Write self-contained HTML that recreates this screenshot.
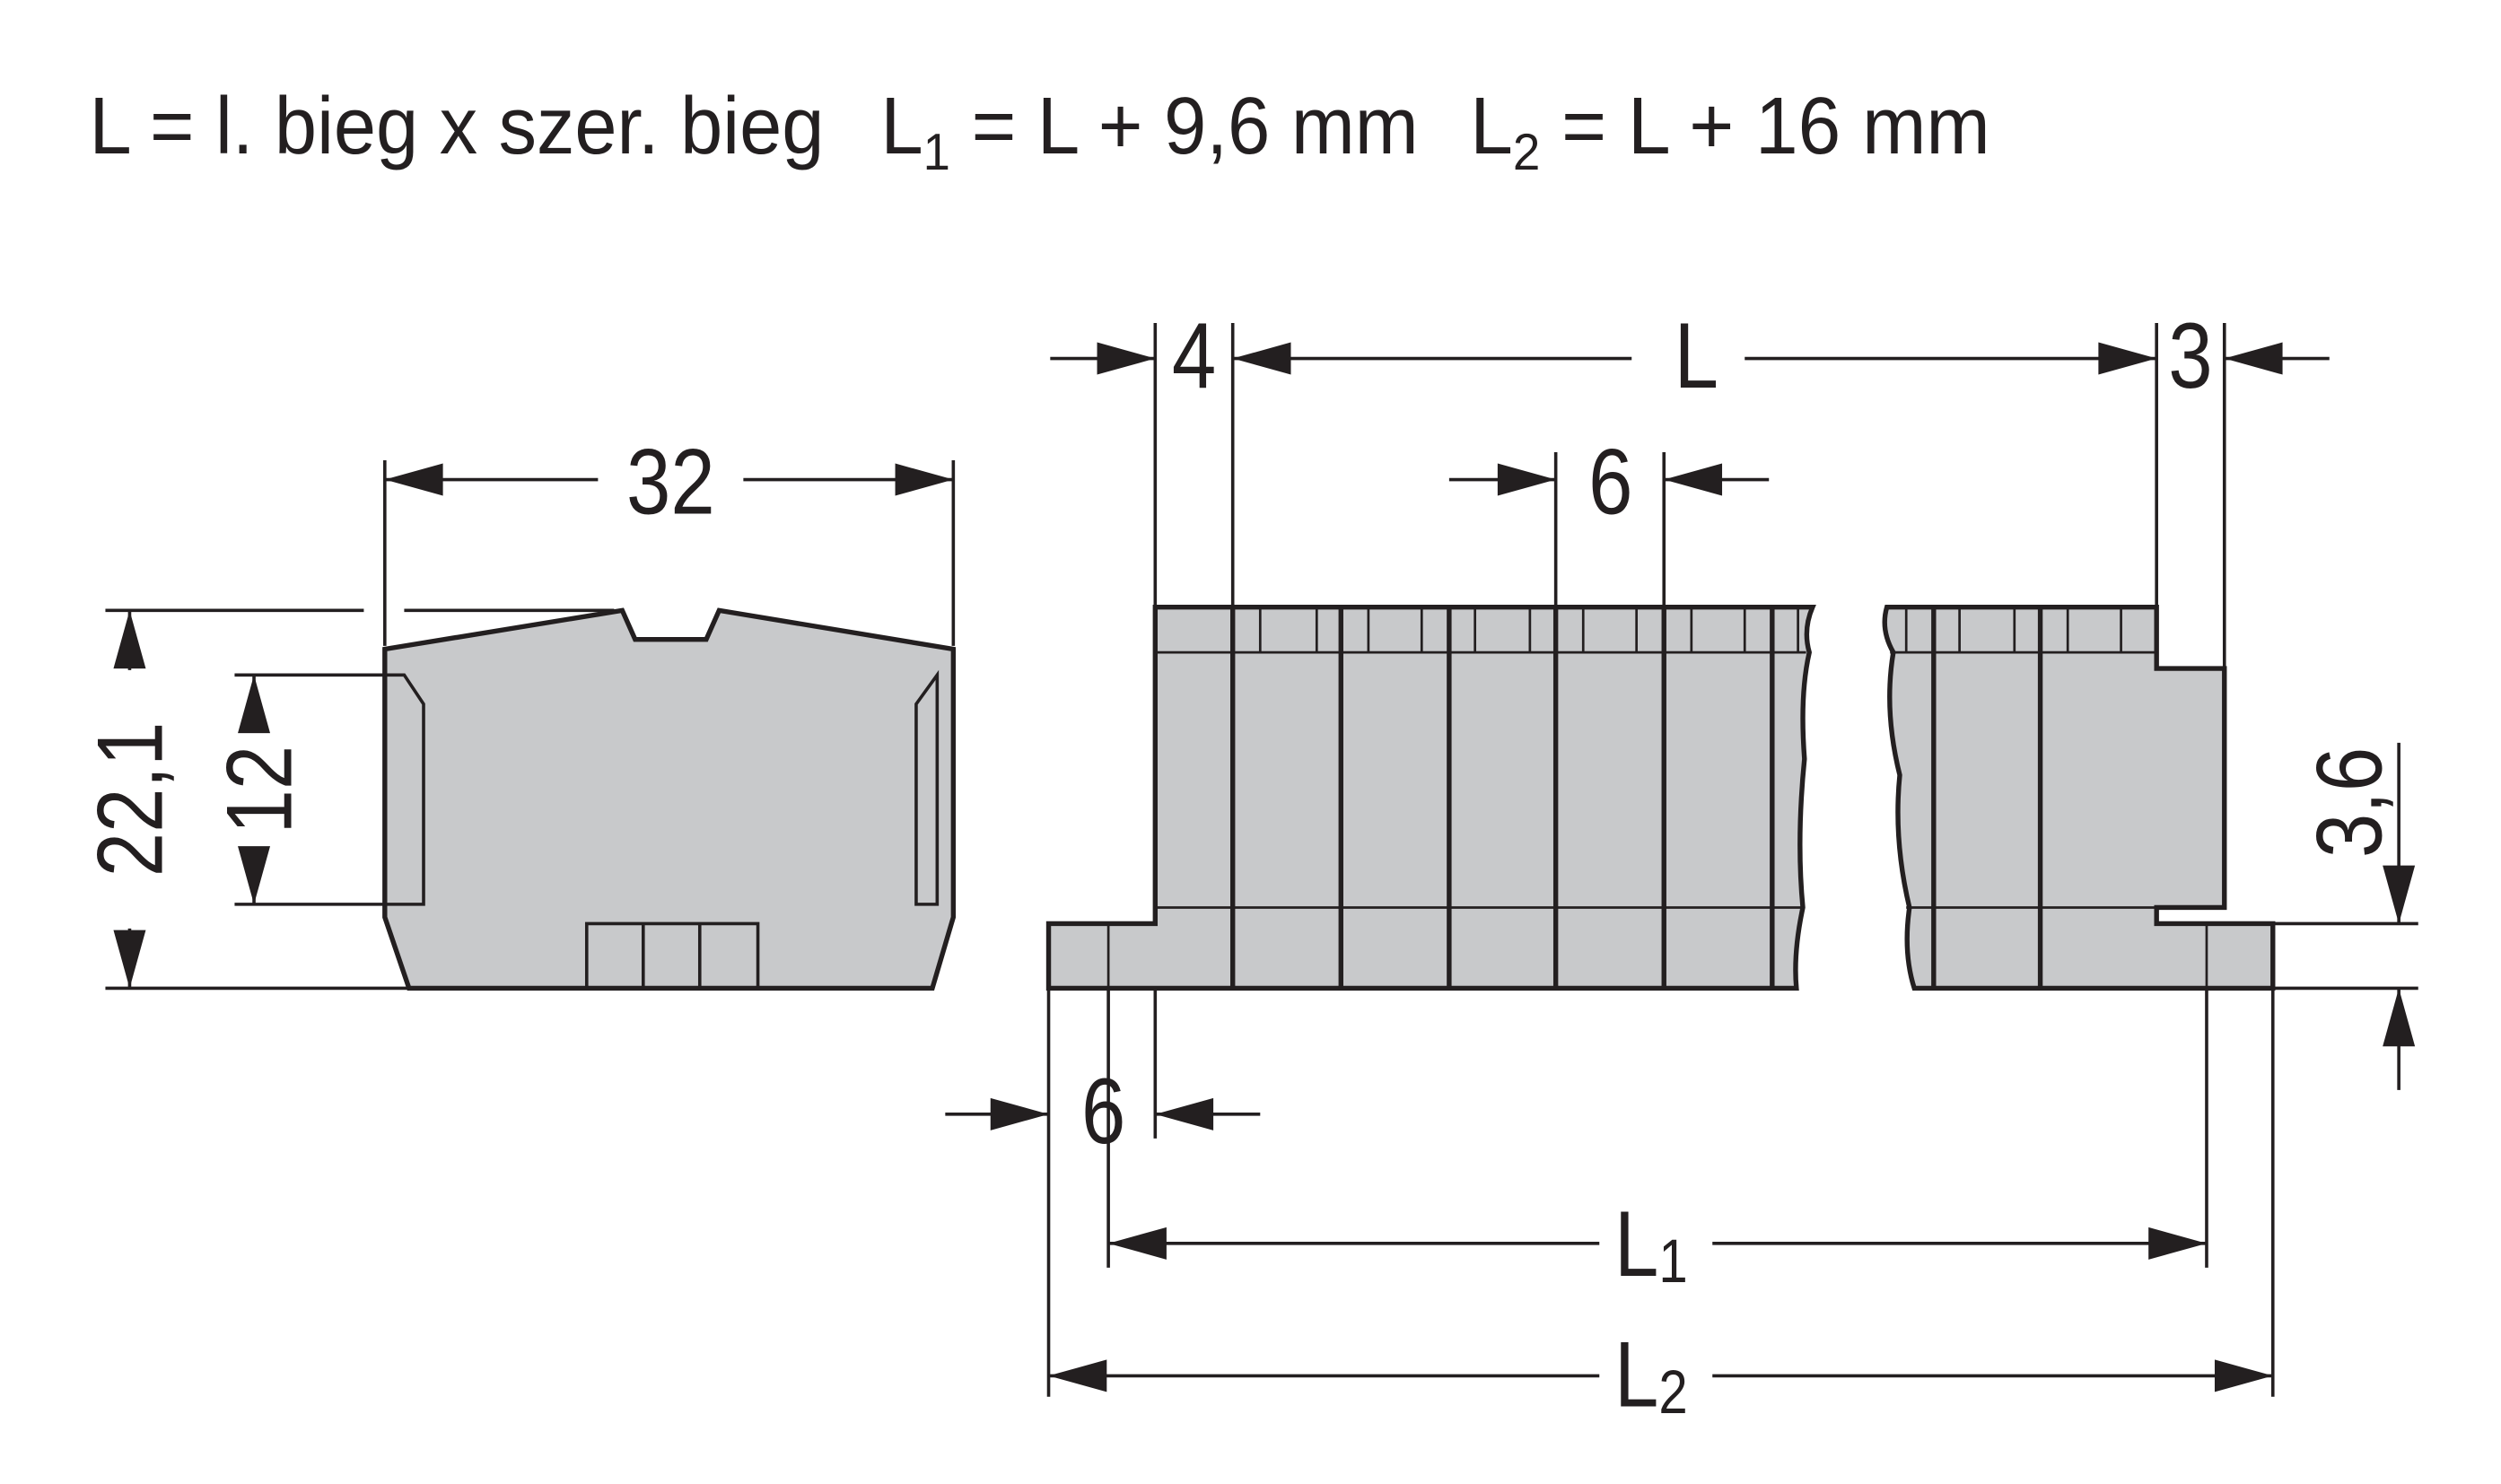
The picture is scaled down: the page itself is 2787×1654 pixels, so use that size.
<!DOCTYPE html>
<html><head><meta charset="utf-8"><style>
html,body{margin:0;padding:0;background:#fff;}
svg{display:block;}
text{font-family:"Liberation Sans Narrow","Liberation Sans",sans-serif;fill:#231f20;}
</style></head><body>
<svg width="2787" height="1654" viewBox="0 0 1548 919" xmlns="http://www.w3.org/2000/svg">
<rect width="1548" height="919" fill="#fff"/>
<text x="55" y="95" font-size="50" textLength="455" lengthAdjust="spacingAndGlyphs">L = l. bieg x szer. bieg</text>
<text x="545" y="95" font-size="50" textLength="333" lengthAdjust="spacingAndGlyphs">L<tspan font-size="32" dy="10">1</tspan><tspan dy="-10"> = L + 9,6 mm</tspan></text>
<text x="910" y="95" font-size="50" textLength="322" lengthAdjust="spacingAndGlyphs">L<tspan font-size="32" dy="10">2</tspan><tspan dy="-10"> = L + 16 mm</tspan></text>

<g stroke="#231f20" fill="none" stroke-linejoin="miter">
<path d="M238,402 L385,378 L393,396 L437,396 L445,378 L590,402 L590,568 L577,612 L253,612 L238,568 Z" fill="#c8c9cb" stroke-width="3"/>
<path d="M238,418 L250,418 L262,436 L262,560 L238,560" stroke-width="2"/>
<path d="M580,418 L567,436 L567,560 L580,560 Z" stroke-width="2"/>
<path d="M363,612 L363,572 L469,572 L469,612 M398,572 L398,612 M433,572 L433,612" stroke-width="2"/>

<path d="M649,572 L715,572 L715,376 L1122,376 Q1116,390 1120,404 Q1114,430 1117,470 Q1112,520 1116,562 Q1110,590 1112,612 L649,612 Z" fill="#c8c9cb" stroke-width="3"/>
<path d="M715,404 L1118,404 M715,562 L1116,562 M686,572 L686,612" stroke-width="1.5"/>
<path d="M763,376 V612 M830,376 V612 M897,376 V612 M963,376 V612 M1030,376 V612 M1097,376 V612" stroke-width="3"/>
<path d="M780,376 V404 M815,376 V404 M847,376 V404 M880,376 V404 M913,376 V404 M947,376 V404 M980,376 V404 M1013,376 V404 M1047,376 V404 M1080,376 V404 M1113,376 V404" stroke-width="1.5"/>

<path d="M1168,376 L1335,376 L1335,414 L1377,414 L1377,562 L1335,562 L1335,572 L1407,572 L1407,612 L1185,612 Q1178,590 1182,562 Q1172,520 1176,480 Q1166,440 1172,404 Q1164,390 1168,376 Z" fill="#c8c9cb" stroke-width="3"/>
<path d="M1170,404 L1335,404 M1180,562 L1335,562 M1366,572 L1366,612" stroke-width="1.5"/>
<path d="M1197,376 V612 M1263,376 V612" stroke-width="3"/>
<path d="M1180,376 V404 M1213,376 V404 M1247,376 V404 M1280,376 V404 M1313,376 V404" stroke-width="1.5"/>

<g stroke-width="2">
<path d="M238,285 V400 M590,285 V400 M238,297 H370 M460,297 H590"/>
<path d="M65,378 H225 M250,378 H380 M65,612 H253 M80,378 V415 M80,575 V612"/>
<path d="M145,418 H238 M145,560 H238 M157,418 V450 M157,525 V560"/>
<path d="M715,200 V376 M763,200 V376 M1335,200 V376 M1377,200 V414"/>
<path d="M650,222 H715 M763,222 H1010 M1080,222 H1335 M1377,222 H1442"/>
<path d="M963,280 V376 M1030,280 V376 M897,297 H963 M1030,297 H1095"/>
<path d="M649,612 V865 M715,612 V705 M585,690 H649 M715,690 H780"/>
<path d="M686,612 V785 M1366,612 V785 M686,770 H990 M1060,770 H1366"/>
<path d="M1407,612 V865 M649,852 H990 M1060,852 H1407"/>
<path d="M1407,572 H1497 M1407,612 H1497 M1485,460 V572 M1485,612 V675"/>
</g>
</g>
<g fill="#231f20">
<polygon points="238,297 274,287 274,307"/><polygon points="590,297 554,287 554,307"/>
<polygon points="80,378 70,414 90,414"/><polygon points="80,612 70,576 90,576"/>
<polygon points="157,418 147,454 167,454"/><polygon points="157,560 147,524 167,524"/>
<polygon points="715,222 679,212 679,232"/><polygon points="763,222 799,212 799,232"/>
<polygon points="1335,222 1299,212 1299,232"/><polygon points="1377,222 1413,212 1413,232"/>
<polygon points="963,297 927,287 927,307"/><polygon points="1030,297 1066,287 1066,307"/>
<polygon points="649,690 613,680 613,700"/><polygon points="715,690 751,680 751,700"/>
<polygon points="686,770 722,760 722,780"/><polygon points="1366,770 1330,760 1330,780"/>
<polygon points="649,852 685,842 685,862"/><polygon points="1407,852 1371,842 1371,862"/>
<polygon points="1485,572 1475,536 1495,536"/><polygon points="1485,612 1475,648 1495,648"/>
</g>
<g font-size="58" text-anchor="middle">
<text transform="translate(415,318) scale(0.85,1)">32</text>
<text transform="translate(739,240) scale(0.85,1)">4</text>
<text transform="translate(1050,240) scale(0.85,1)">L</text>
<text transform="translate(1356,240) scale(0.85,1)">3</text>
<text transform="translate(997,318) scale(0.85,1)">6</text>
<text transform="translate(683,708) scale(0.85,1)">6</text>
<text transform="translate(1022,790) scale(0.85,1)">L<tspan font-size="38" dy="4">1</tspan></text>
<text transform="translate(1022,871) scale(0.85,1)">L<tspan font-size="38" dy="4">2</tspan></text>
<text transform="translate(100,495) rotate(-90) scale(0.85,1)">22,1</text>
<text transform="translate(180,489) rotate(-90) scale(0.85,1)">12</text>
<text transform="translate(1474,497) rotate(-90) scale(0.85,1)">3,6</text>
</g>
</svg>
</body></html>
